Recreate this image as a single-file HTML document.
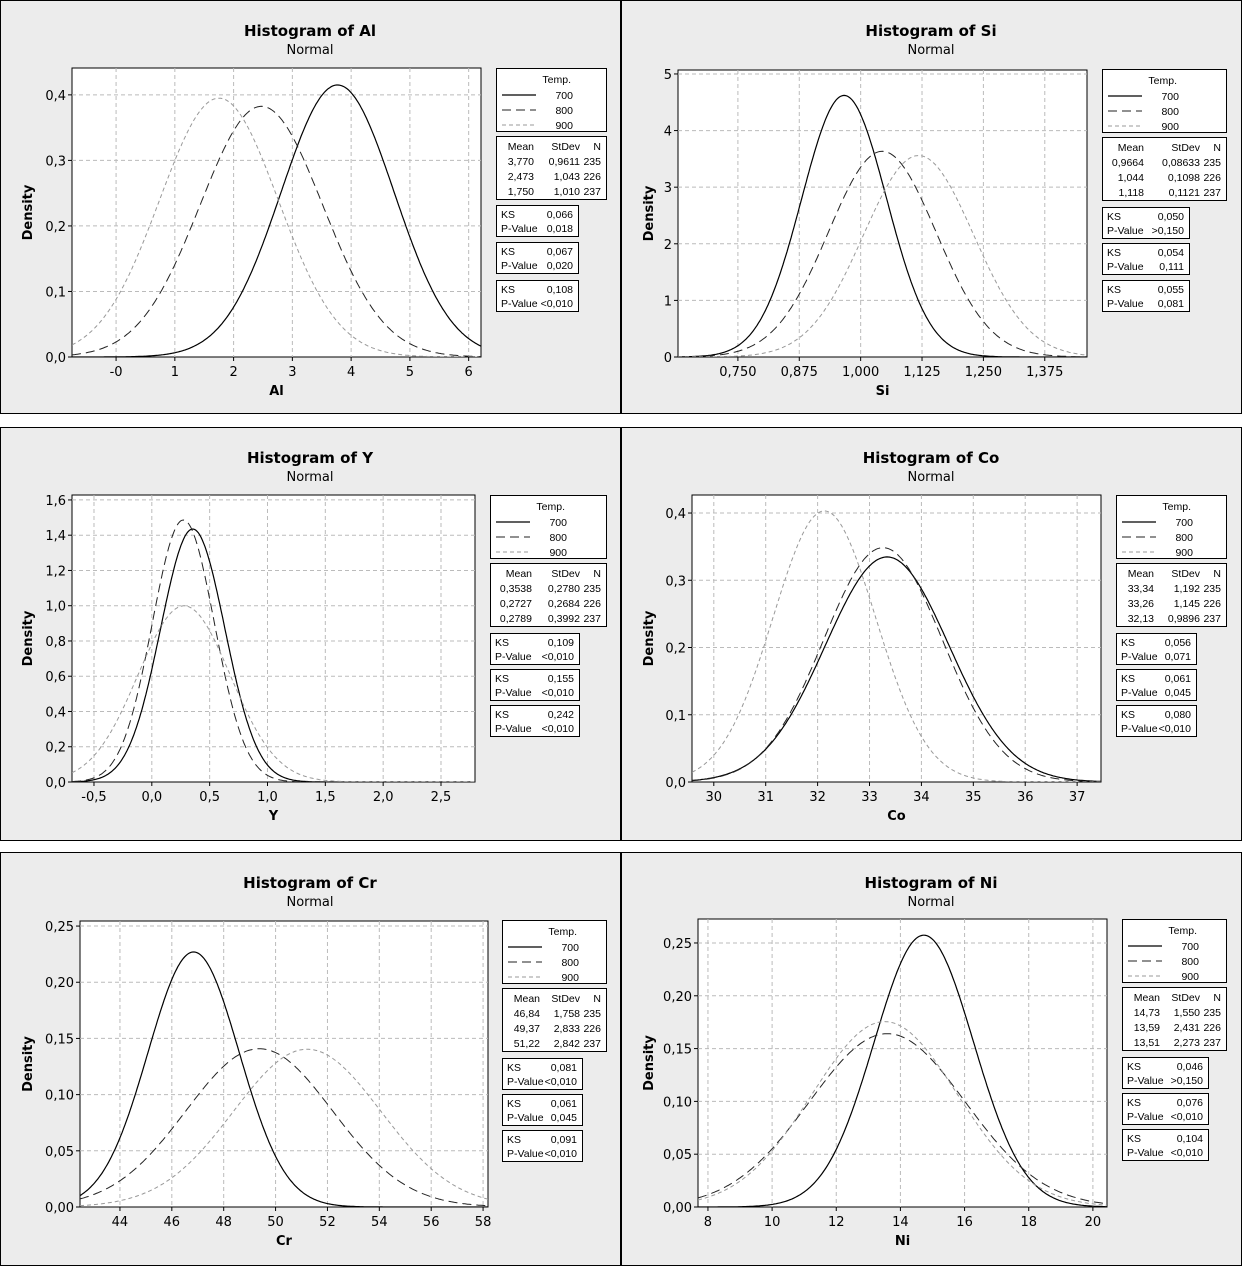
<!DOCTYPE html>
<html><head><meta charset="utf-8"><style>
html,body{margin:0;padding:0;background:#fff}
svg{display:block}
text{font-family:"DejaVu Sans","Liberation Sans",sans-serif}
.l{font-family:"Liberation Sans",sans-serif;font-size:10.5px}
</style></head><body>
<svg id="s" width="1242" height="1266" xmlns="http://www.w3.org/2000/svg"></svg>
<script>
const S=document.getElementById('s');let h='';
const P=[
{t:'Al',fx:0,fy:0,px:[72,481],py:[68,357],xr:[-0.75,6.21],yr:[0,0.441],xt:[0,1,2,3,4,5,6],xf:v=>v==0?'-0':String(v),yt:[0,.1,.2,.3,.4],yd:1,
 st:[[3.770,0.9611,235],[2.473,1.043,226],[1.750,1.010,237]],ss:['3,770','0,9611','235','2,473','1,043','226','1,750','1,010','237'],
 ks:[['0,066','0,018'],['0,067','0,020'],['0,108','<0,010']],lx:[496,606,578],ly:[68,136,205,242,280]},
{t:'Si',fx:621,fy:0,px:[678,1087],py:[70,357],xr:[0.628,1.461],yr:[0,5.07],xt:[.75,.875,1,1.125,1.25,1.375],xf:v=>v.toFixed(3).replace('.',','),yt:[0,1,2,3,4,5],yd:0,
 st:[[0.9664,0.08633],[1.044,0.1098],[1.118,0.1121]],ss:['0,9664','0,08633','235','1,044','0,1098','226','1,118','0,1121','237'],
 ks:[['0,050','>0,150'],['0,054','0,111'],['0,055','0,081']],lx:[1102,1226,1189],ly:[69,137,207,243,280]},
{t:'Y',fx:0,fy:427,px:[72,475],py:[495,782],xr:[-0.69,2.794],yr:[0,1.628],xt:[-.5,0,.5,1,1.5,2,2.5],xf:v=>v.toFixed(1).replace('.',','),yt:[0,.2,.4,.6,.8,1,1.2,1.4,1.6],yd:1,
 st:[[0.3538,0.2780],[0.2727,0.2684],[0.2789,0.3992]],ss:['0,3538','0,2780','235','0,2727','0,2684','226','0,2789','0,3992','237'],
 ks:[['0,109','<0,010'],['0,155','<0,010'],['0,242','<0,010']],lx:[490,606,579],ly:[495,563,633,669,705]},
{t:'Co',fx:621,fy:427,px:[692,1101],py:[495,782],xr:[29.58,37.46],yr:[0,0.4268],xt:[30,31,32,33,34,35,36,37],xf:v=>String(v),yt:[0,.1,.2,.3,.4],yd:1,
 st:[[33.34,1.192],[33.26,1.145],[32.13,0.9896]],ss:['33,34','1,192','235','33,26','1,145','226','32,13','0,9896','237'],
 ks:[['0,056','0,071'],['0,061','0,045'],['0,080','<0,010']],lx:[1116,1226,1196],ly:[495,563,633,669,705]},
{t:'Cr',fx:0,fy:852,px:[80,488],py:[921,1207],xr:[42.46,58.19],yr:[0,0.2545],xt:[44,46,48,50,52,54,56,58],xf:v=>String(v),yt:[0,.05,.1,.15,.2,.25],yd:2,
 st:[[46.84,1.758],[49.37,2.833],[51.22,2.842]],ss:['46,84','1,758','235','49,37','2,833','226','51,22','2,842','237'],
 ks:[['0,081','<0,010'],['0,061','0,045'],['0,091','<0,010']],lx:[502,606,582],ly:[920,988,1058,1094,1130]},
{t:'Ni',fx:621,fy:852,px:[698,1107],py:[919,1207],xr:[7.69,20.44],yr:[0,0.2727],xt:[8,10,12,14,16,18,20],xf:v=>String(v),yt:[0,.05,.1,.15,.2,.25],yd:2,
 st:[[14.73,1.550],[13.59,2.431],[13.51,2.273]],ss:['14,73','1,550','235','13,59','2,431','226','13,51','2,273','237'],
 ks:[['0,046','>0,150'],['0,076','<0,010'],['0,104','<0,010']],lx:[1122,1226,1208],ly:[919,987,1057,1093,1129]}
];
const sty=['stroke="#000" stroke-width="1.2"','stroke="#222" stroke-width="1" stroke-dasharray="9,5"','stroke="#999" stroke-width="1" stroke-dasharray="4,3"'];
for(const p of P){
 h+=`<rect x="${p.fx+0.5}" y="${p.fy+0.5}" width="620" height="413" fill="#ececec" stroke="#000"/>`;
 const cx=p.fx+310;
 h+=`<text x="${cx}" y="${p.fy+36}" font-size="15" font-weight="bold" text-anchor="middle">Histogram of ${p.t}</text>`;
 h+=`<text x="${cx}" y="${p.fy+54}" font-size="13" text-anchor="middle">Normal</text>`;
 const [x0,x1]=p.px,[y0,y1]=p.py;
 const X=v=>x0+(v-p.xr[0])/(p.xr[1]-p.xr[0])*(x1-x0);
 const Y=v=>y1-(v-p.yr[0])/(p.yr[1]-p.yr[0])*(y1-y0);
 h+=`<rect x="${x0}" y="${y0}" width="${x1-x0}" height="${y1-y0}" fill="#fff" stroke="#000"/>`;
 for(const t of p.xt){const x=X(t);h+=`<line x1="${x}" y1="${y0}" x2="${x}" y2="${y1}" stroke="#bbb" stroke-dasharray="4,3"/>`;
  h+=`<line x1="${x}" y1="${y1}" x2="${x}" y2="${y1+4}" stroke="#000"/><text x="${x}" y="${y1+19}" font-size="13" text-anchor="middle">${p.xf(t)}</text>`;}
 for(const t of p.yt){const y=Y(t);if(t>0)h+=`<line x1="${x0}" y1="${y}" x2="${x1}" y2="${y}" stroke="#bbb" stroke-dasharray="4,3"/>`;
  h+=`<line x1="${x0-4}" y1="${y}" x2="${x0}" y2="${y}" stroke="#000"/><text x="${x0-6}" y="${y+5}" font-size="13" text-anchor="end">${t.toFixed(p.yd).replace('.',',')}</text>`;}
 h+=`<text x="${(x0+x1)/2}" y="${y1+38}" font-size="13" font-weight="bold" text-anchor="middle">${p.t}</text>`;
 h+=`<text transform="translate(${p.fx+32},${(y0+y1)/2}) rotate(-90)" font-size="13" font-weight="bold" text-anchor="middle">Density</text>`;
 h+=`<clipPath id="c${p.t}"><rect x="${x0}" y="${y0}" width="${x1-x0}" height="${y1-y0}"/></clipPath>`;
 p.st.forEach((s,i)=>{let d='';for(let k=0;k<=300;k++){const v=p.xr[0]+(p.xr[1]-p.xr[0])*k/300;const f=Math.exp(-0.5*((v-s[0])/s[1])**2)/(s[1]*Math.sqrt(2*Math.PI));d+=(k?'L':'M')+X(v).toFixed(1)+','+Y(f).toFixed(1);}
  h+=`<path d="${d}" fill="none" ${sty[i]} clip-path="url(#c${p.t})"/>`;});
 const [lx0,lx1,lx2]=p.lx,ly=p.ly;
 h+=`<rect x="${lx0+.5}" y="${ly[0]+.5}" width="${lx1-lx0}" height="63" fill="#fff" stroke="#000"/>`;
 h+=`<text class="l" x="${lx0+75}" y="${ly[0]+15}" text-anchor="end">Temp.</text>`;
 ['700','800','900'].forEach((n,i)=>{const y=ly[0]+27+i*15;h+=`<line x1="${lx0+6}" y1="${y}" x2="${lx0+40}" y2="${y}" ${sty[i]}/><text class="l" x="${lx0+77}" y="${y+4}" text-anchor="end">${n}</text>`;});
 h+=`<rect x="${lx0+.5}" y="${ly[1]+.5}" width="${lx1-lx0}" height="63" fill="#fff" stroke="#000"/>`;
 const w=lx1-lx0;const c1=lx0+(w>115?42:38),c2=lx1-26,c3=lx1-5;
 h+=`<text class="l" x="${c1}" y="${ly[1]+14}" text-anchor="end">Mean</text><text class="l" x="${c2}" y="${ly[1]+14}" text-anchor="end">StDev</text><text class="l" x="${c3}" y="${ly[1]+14}" text-anchor="end">N</text>`;
 for(let r=0;r<3;r++){const y=ly[1]+29+r*15;h+=`<text class="l" x="${c1}" y="${y}" text-anchor="end">${p.ss[r*3]}</text><text class="l" x="${c2}" y="${y}" text-anchor="end">${p.ss[r*3+1]}</text><text class="l" x="${c3}" y="${y}" text-anchor="end">${p.ss[r*3+2]}</text>`;}
 p.ks.forEach((k,i)=>{const y=ly[2+i];h+=`<rect x="${lx0+.5}" y="${y+.5}" width="${lx2-lx0}" height="31" fill="#fff" stroke="#000"/>`;
  h+=`<text class="l" x="${lx0+5}" y="${y+13}">KS</text><text class="l" x="${lx2-5}" y="${y+13}" text-anchor="end">${k[0]}</text>`;
  h+=`<text class="l" x="${lx0+5}" y="${y+27}">P-Value</text><text class="l" x="${lx2-5}" y="${y+27}" text-anchor="end">${k[1]}</text>`;});
}
S.innerHTML=h;
</script>
</body></html>
